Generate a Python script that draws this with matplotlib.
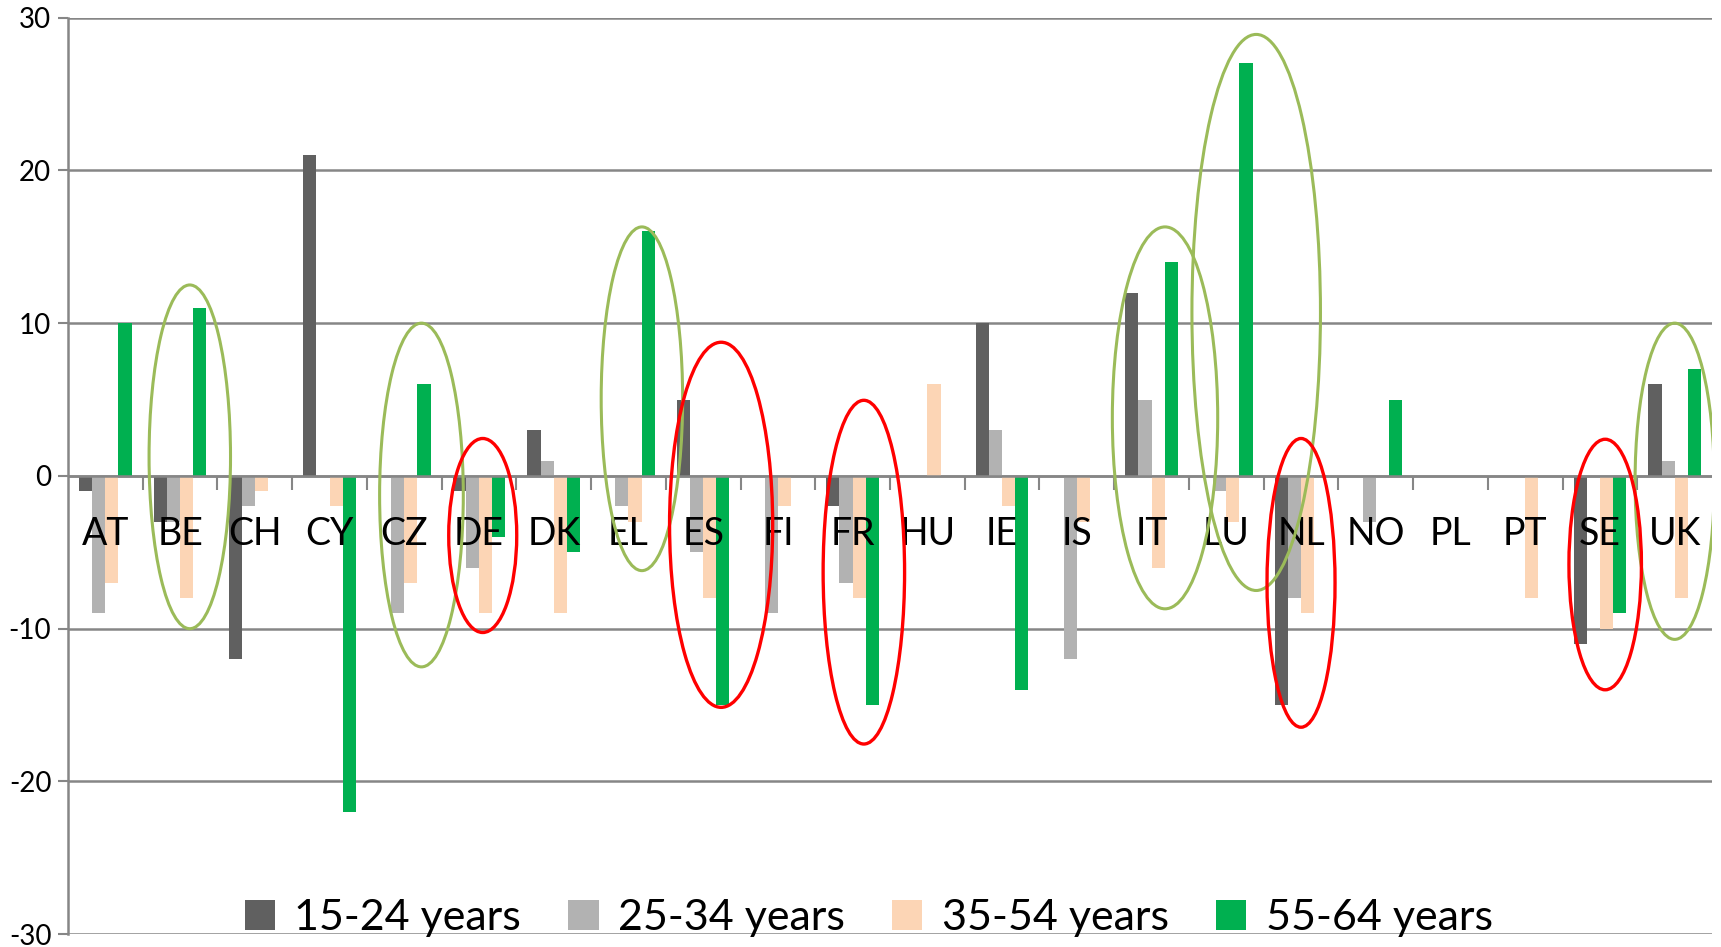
import matplotlib.pyplot as plt
from matplotlib.patches import Ellipse
import numpy as np

plt.rcParams['font.family'] = ['Lato', 'DejaVu Sans']
plt.rcParams['axes.unicode_minus'] = False

countries = ['AT', 'BE', 'CH', 'CY', 'CZ', 'DE', 'DK', 'EL', 'ES', 'FI', 'FR',
             'HU', 'IE', 'IS', 'IT', 'LU', 'NL', 'NO', 'PL', 'PT', 'SE', 'UK']
y_15_24 = [-1, -3, -12, 21, 0, -1, 3, 0, 5, 0, -2, 0, 10, 0, 12, 0, -15, 0, 0, 0, -11, 6]
y_25_34 = [-9, -3, -2, 0, -9, -6, 1, -2, -5, -9, -7, 0, 3, -12, 5, -1, -8, -3, 0, 0, 0, 1]
y_35_54 = [-7, -8, -1, -2, -7, -9, -9, -3, -8, -2, -8, 6, -2, -3, -6, -3, -9, 0, 0, -8, -10, -8]
y_55_64 = [10, 11, 0, -22, 6, -4, -5, 16, -15, 0, -15, 0, -14, 0, 14, 27, 0, 5, 0, 0, -9, 7]
labels = ['15-24 years', '25-34 years', '35-54 years', '55-64 years']
colors = ['#606060', '#B2B2B2', '#FCD5B5', '#00B050']

# highlight ellipses: (country, centre y, width, height)
ell_green = [('BE', 1.25, 1.09, 22.5), ('CZ', -1.25, 1.12, 22.5), ('EL', 5.05, 1.09, 22.5),
             ('IT', 3.8, 1.41, 25.0), ('LU', 10.7, 1.72, 36.4), ('UK', -0.35, 1.06, 20.7)]
ell_red = [('DE', -3.9, 0.91, 12.7), ('ES', -3.2, 1.38, 23.9), ('FR', -6.3, 1.09, 22.5),
           ('NL', -7.0, 0.91, 18.9), ('SE', -5.8, 0.97, 16.4)]
ell_x_shift = {'BE': 0.13, 'CZ': 0.23, 'DE': 0.05, 'EL': 0.18, 'ES': 0.24, 'FR': 0.15,
               'IT': 0.18, 'LU': 0.4, 'NL': 0.0, 'SE': 0.07, 'UK': 0.0}

fig = plt.figure(figsize=(17.21, 9.47), dpi=100)
ax = fig.add_axes([0.0395, 0.0135, 0.9553, 0.9679])

x = np.arange(len(countries))
w = 0.176
series = [y_15_24, y_25_34, y_35_54, y_55_64]
for i, (vals, lab, c) in enumerate(zip(series, labels, colors)):
    ax.bar(x + (i - 1.5) * w, vals, w, color=c, label=lab, zorder=3)

ax.set_xlim(-0.5, len(countries) - 0.5)
ax.set_ylim(-30, 30)
ax.set_yticks(range(-30, 31, 10))
ax.tick_params(axis='y', labelsize=20, length=7, color='#868686', width=1.5, pad=5)
ax.set_xticks([])
ax.grid(axis='y', color='#868686', lw=1.8, zorder=0)
for s in ['top', 'right', 'bottom']:
    ax.spines[s].set_visible(False)
ax.spines['left'].set_color('#868686')
ax.spines['left'].set_linewidth(1.8)

# category axis at zero with boundary ticks
ax.axhline(0, color='#868686', lw=1.8, zorder=4)
ax.vlines(np.arange(0.5, len(countries) - 0.5), -0.9, 0, color='#868686', lw=1.5, zorder=4)
for xi, c in zip(x, countries):
    ax.text(xi, -3.8, c, ha='center', va='center', fontsize=27, zorder=5)

for name, cy, ew, eh in ell_green:
    cx = countries.index(name) + ell_x_shift[name]
    ax.add_patch(Ellipse((cx, cy), ew, eh, fill=False, ec='#9BBB59', lw=2.2, zorder=6))
for name, cy, ew, eh in ell_red:
    cx = countries.index(name) + ell_x_shift[name]
    ax.add_patch(Ellipse((cx, cy), ew, eh, fill=False, ec='#FF0000', lw=2.4, zorder=6))

ax.legend(loc='lower center', bbox_to_anchor=(0.487, -0.045), ncol=4, frameon=False,
          fontsize=31, handlelength=0.7, handleheight=0.7, handletextpad=0.45,
          columnspacing=1.1)

fig.savefig('out.png', dpi=100)
